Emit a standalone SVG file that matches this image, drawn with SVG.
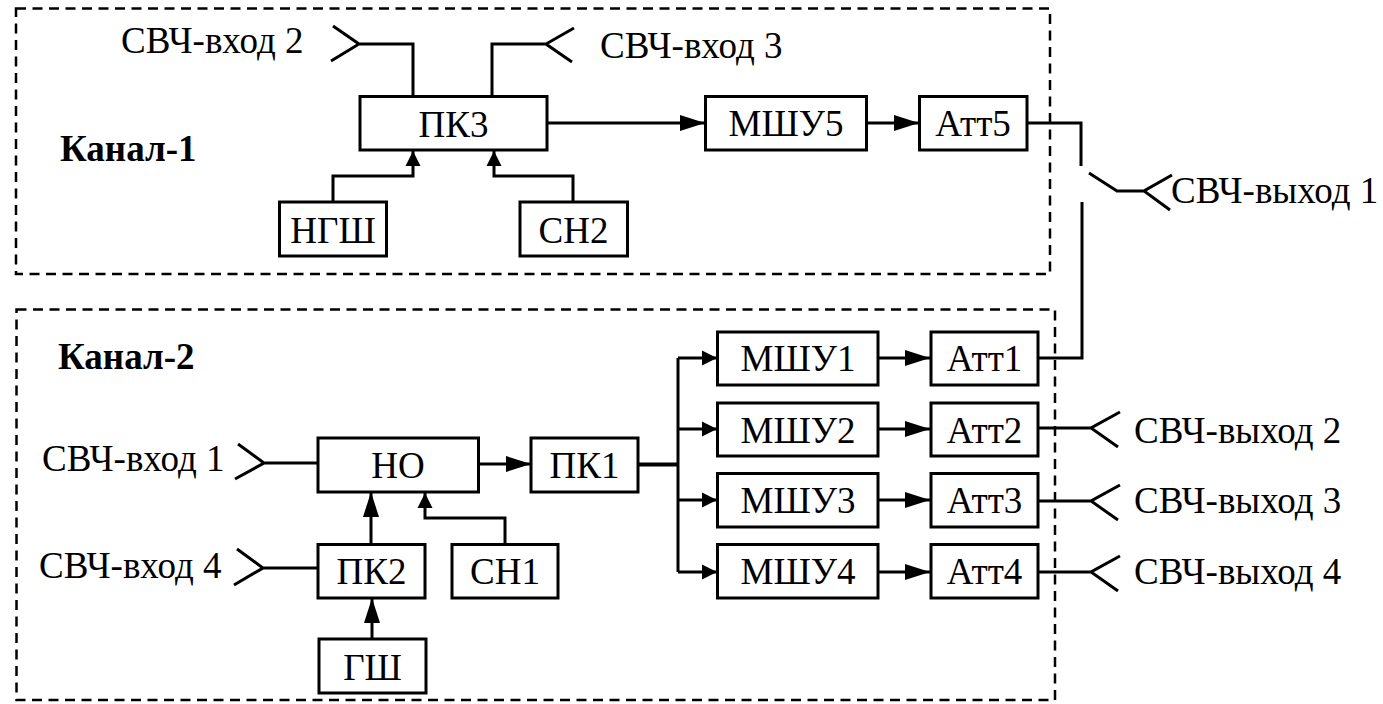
<svg xmlns="http://www.w3.org/2000/svg" width="1383" height="704" viewBox="0 0 1383 704">
<style>
.box{fill:#fff;stroke:#000;stroke-width:3}
.frame{fill:none;stroke:#000;stroke-width:2.5;stroke-dasharray:10 6.5}
.w{fill:none;stroke:#000;stroke-width:3}
.t{font-family:"Liberation Serif","Times New Roman",serif;font-size:37px;fill:#000}
.c{text-anchor:middle}
.b{font-weight:bold}
</style>
<defs>
<marker id="al" markerUnits="userSpaceOnUse" markerWidth="26" markerHeight="18" refX="25" refY="8" orient="auto"><path d="M0 0L25 8L0 16Z" fill="#000"/></marker>
<marker id="as" markerUnits="userSpaceOnUse" markerWidth="16" markerHeight="18" refX="15" refY="8" orient="auto"><path d="M0 0.5L15 8L0 15.5Z" fill="#000"/></marker>
</defs>
<rect x="0" y="0" width="1383" height="704" fill="#fff"/>
<g id="frames">
<rect id="frame-1" class="frame" x="16" y="8.5" width="1034" height="265.5"/>
<rect id="frame-2" class="frame" x="16.500" y="309.500" width="1038.500" height="390.500"/>
</g>
<g id="connectors">
<path class="w" d="M333 26L359 44L331 61M359 44H413V96"/>
<path class="w" d="M574 28L546 44L572 62M546 44H492V96"/>
<path class="w" d="M547 123H705" marker-end="url(#al)"/>
<path class="w" d="M866 123H919" marker-end="url(#al)"/>
<path class="w" d="M333 202V176H413V151" marker-end="url(#as)"/>
<path class="w" d="M573 202V176H494V151" marker-end="url(#as)"/>
<path class="w" d="M1027 123H1081V166"/>
<path class="w" d="M1089 173L1117 191H1144M1172 175L1144 191L1170 210"/>
<path class="w" d="M1039 358H1082V202"/>
<path class="w" d="M238 444L264 463L235 479M264 463H318"/>
<path class="w" d="M237 549L263 568L234 585M263 568H318"/>
<path class="w" d="M478 464H531" marker-end="url(#al)"/>
<path class="w" d="M371 544V492" marker-end="url(#al)"/>
<path class="w" d="M505 544V518H425V493" marker-end="url(#as)"/>
<path class="w" d="M372 639V598" marker-end="url(#al)"/>
<path class="w" style="stroke-width:4" d="M638 464.500H678"/>
<path class="w" d="M678 358V572"/>
<path class="w" d="M678 358H717" marker-end="url(#as)"/>
<path class="w" d="M678 429H717" marker-end="url(#as)"/>
<path class="w" d="M678 500H717" marker-end="url(#as)"/>
<path class="w" d="M678 572H717" marker-end="url(#as)"/>
<path class="w" d="M878 358H930" marker-end="url(#al)"/>
<path class="w" d="M878 429H930" marker-end="url(#al)"/>
<path class="w" d="M878 500H930" marker-end="url(#al)"/>
<path class="w" d="M878 572H930" marker-end="url(#al)"/>
<path class="w" d="M1038 428H1091M1120 412L1091 428L1118 447"/>
<path class="w" d="M1038 501H1091M1120 485L1091 501L1118 520"/>
<path class="w" d="M1038 572H1091M1120 556L1091 572L1118 591"/>
</g>
<g id="n-pk3"><rect class="box" x="360" y="96.500" width="187" height="53.500"/><text class="t c" x="453.500" y="137">ПК3</text></g>
<g id="n-mshu5"><rect class="box" x="705.500" y="96.500" width="161" height="53.500"/><text class="t c" x="786" y="136">МШУ5</text></g>
<g id="n-att5"><rect class="box" x="919.500" y="96.500" width="107.500" height="53.500"/><text class="t c" x="973" y="136">Атт5</text></g>
<g id="n-ngsh"><rect class="box" x="279.500" y="202" width="107" height="54"/><text class="t c" x="333" y="243">НГШ</text></g>
<g id="n-sn2"><rect class="box" x="520" y="202" width="107.500" height="54"/><text class="t c" x="573.500" y="243">СН2</text></g>
<g id="n-no"><rect class="box" x="318" y="438" width="160.500" height="54"/><text class="t c" x="398" y="478">НО</text></g>
<g id="n-pk1"><rect class="box" x="531" y="438" width="107" height="54"/><text class="t c" x="584.500" y="478">ПК1</text></g>
<g id="n-pk2"><rect class="box" x="318" y="544.500" width="107" height="53.500"/><text class="t c" x="371.500" y="584">ПК2</text></g>
<g id="n-sn1"><rect class="box" x="452" y="544.500" width="106" height="53.500"/><text class="t c" x="505" y="584">СН1</text></g>
<g id="n-gsh"><rect class="box" x="319" y="639" width="107" height="54"/><text class="t c" x="372.500" y="680">ГШ</text></g>
<g id="n-mshu1"><rect class="box" x="717.500" y="332" width="160.500" height="53"/><text class="t c" x="798" y="371">МШУ1</text></g>
<g id="n-mshu2"><rect class="box" x="717.500" y="403" width="160.500" height="53"/><text class="t c" x="798" y="443">МШУ2</text></g>
<g id="n-mshu3"><rect class="box" x="717.500" y="473.500" width="160.500" height="53.500"/><text class="t c" x="798" y="513">МШУ3</text></g>
<g id="n-mshu4"><rect class="box" x="717.500" y="544.500" width="160.500" height="53.500"/><text class="t c" x="798" y="584">МШУ4</text></g>
<g id="n-att1"><rect class="box" x="931" y="332" width="107" height="53"/><text class="t c" x="984.500" y="371">Атт1</text></g>
<g id="n-att2"><rect class="box" x="931" y="403" width="107" height="53"/><text class="t c" x="984.500" y="443">Атт2</text></g>
<g id="n-att3"><rect class="box" x="931" y="473.500" width="107" height="53.500"/><text class="t c" x="984.500" y="513">Атт3</text></g>
<g id="n-att4"><rect class="box" x="931" y="544.500" width="107" height="53.500"/><text class="t c" x="984.500" y="584">Атт4</text></g>
<g id="labels">
<text class="t b" x="60" y="161">Канал-1</text>
<text class="t b" x="58" y="369">Канал-2</text>
<text class="t" x="121" y="53">СВЧ-вход 2</text>
<text class="t" x="600" y="58">СВЧ-вход 3</text>
<text class="t" x="42" y="471">СВЧ-вход 1</text>
<text class="t" x="39" y="578">СВЧ-вход 4</text>
<text class="t" x="1171" y="203">СВЧ-выход 1</text>
<text class="t" x="1134" y="443">СВЧ-выход 2</text>
<text class="t" x="1134" y="513">СВЧ-выход 3</text>
<text class="t" x="1134" y="584">СВЧ-выход 4</text>
</g>
</svg>
